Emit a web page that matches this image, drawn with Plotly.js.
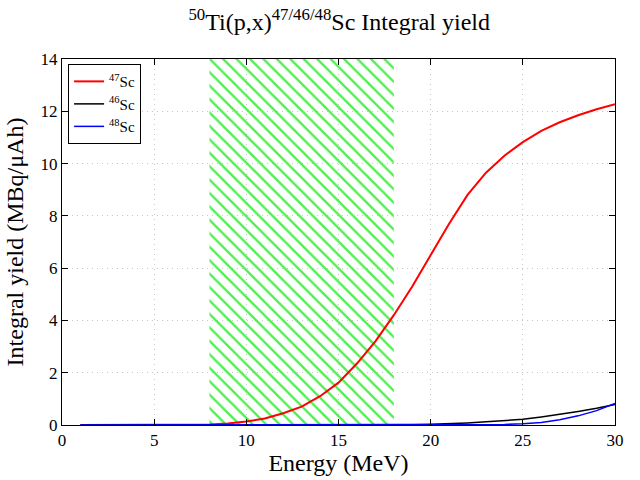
<!DOCTYPE html>
<html>
<head>
<meta charset="utf-8">
<script src="https://cdn.plot.ly/plotly-3.0.1.min.js"></script>
<style>
  html, body { margin: 0; padding: 0; background: #fff; }
  #chart { width: 640px; height: 480px; }
</style>
</head>
<body>
<div id="chart"></div>
<script>
// energies (MeV) and integral yields (MBq/uAh)
const energy = [1, 2, 3, 4, 5, 6, 7, 8, 9, 10, 11, 12, 13, 14, 15, 16, 17, 18, 19, 20,
  21, 22, 23, 24, 25, 26, 27, 28, 29, 30];
const sc47 = [0, 0, 0, 0, 0, 0, 0.005, 0.02, 0.06, 0.13, 0.25, 0.45, 0.7, 1.1, 1.62, 2.35, 3.2, 4.2, 5.3, 6.5,
  7.7, 8.8, 9.65, 10.3, 10.82, 11.25, 11.58, 11.85, 12.08, 12.27];
const sc46 = [0, 0, 0, 0, 0, 0, 0, 0, 0, 0, 0, 0, 0, 0, 0, 0, 0.002, 0.005, 0.015, 0.03,
  0.05, 0.08, 0.12, 0.17, 0.22, 0.31, 0.41, 0.52, 0.64, 0.78];
const sc48 = [0, 0, 0, 0, 0, 0, 0, 0, 0, 0, 0, 0, 0, 0, 0, 0, 0, 0, 0, 0,
  0, 0, 0.01, 0.02, 0.05, 0.1, 0.2, 0.35, 0.55, 0.82];

// hatched energy window
const bandX = [8, 18, 18, 8, 8];
const bandY = [0, 0, 14, 14, 0];

const SERIF = 'Times New Roman, Liberation Serif, DejaVu Serif, serif';

const traces = [
  {
    x: bandX, y: bandY, mode: 'lines', fill: 'toself', showlegend: false, hoverinfo: 'skip',
    line: { width: 0, color: 'rgba(0,0,0,0)' },
    fillcolor: 'rgba(0,0,0,0)',
    fillpattern: { shape: '\\', fgcolor: '#4def4d', bgcolor: 'rgba(255,255,255,0)', size: 9.5, solidity: 0.24 },
  },
  { x: energy, y: sc47, mode: 'lines', name: '<sup>47</sup>Sc', line: { color: '#ff0000', width: 2 } },
  { x: energy, y: sc46, mode: 'lines', name: '<sup>46</sup>Sc', line: { color: '#000000', width: 1.5 } },
  { x: energy, y: sc48, mode: 'lines', name: '<sup>48</sup>Sc', line: { color: '#0000ff', width: 1.5 } },
];

const axisBase = {
  showline: true, linecolor: '#000', linewidth: 1, mirror: 'ticks',
  ticks: 'inside', ticklen: 6, tickcolor: '#000',
  showgrid: true, gridcolor: '#c8c8c8', griddash: '1px,4px', gridwidth: 1,
  zeroline: false, tickfont: { family: SERIF, size: 17, color: '#000' },
};

const layout = {
  width: 640, height: 480,
  margin: { l: 62, r: 25, t: 59, b: 55 },
  paper_bgcolor: '#fff', plot_bgcolor: '#fff',
  font: { family: SERIF, color: '#000' },
  title: {
    text: '<sup>50</sup>Ti(p,x)<sup>47/46/48</sup>Sc Integral yield',
    font: { family: SERIF, size: 24, color: '#000' },
    x: 0.53, xanchor: 'center', y: 0.955, yanchor: 'middle',
  },
  xaxis: {
    ...axisBase, range: [0, 30], dtick: 5,
    title: { text: 'Energy (MeV)', font: { family: SERIF, size: 24 }, standoff: 4 },
  },
  yaxis: {
    ...axisBase, range: [0, 14], dtick: 2,
    title: { text: 'Integral yield (MBq/μAh)', font: { family: SERIF, size: 24 }, standoff: 10 },
  },
  showlegend: true,
  legend: {
    x: 0.011, y: 0.986, xanchor: 'left', yanchor: 'top',
    bgcolor: '#fff', bordercolor: '#000', borderwidth: 1,
    font: { family: SERIF, size: 15, color: '#000' },
    tracegroupgap: 0, itemwidth: 30,
  },
};

Plotly.newPlot('chart', traces, layout, { displayModeBar: false, staticPlot: true });
</script>
</body>
</html>
